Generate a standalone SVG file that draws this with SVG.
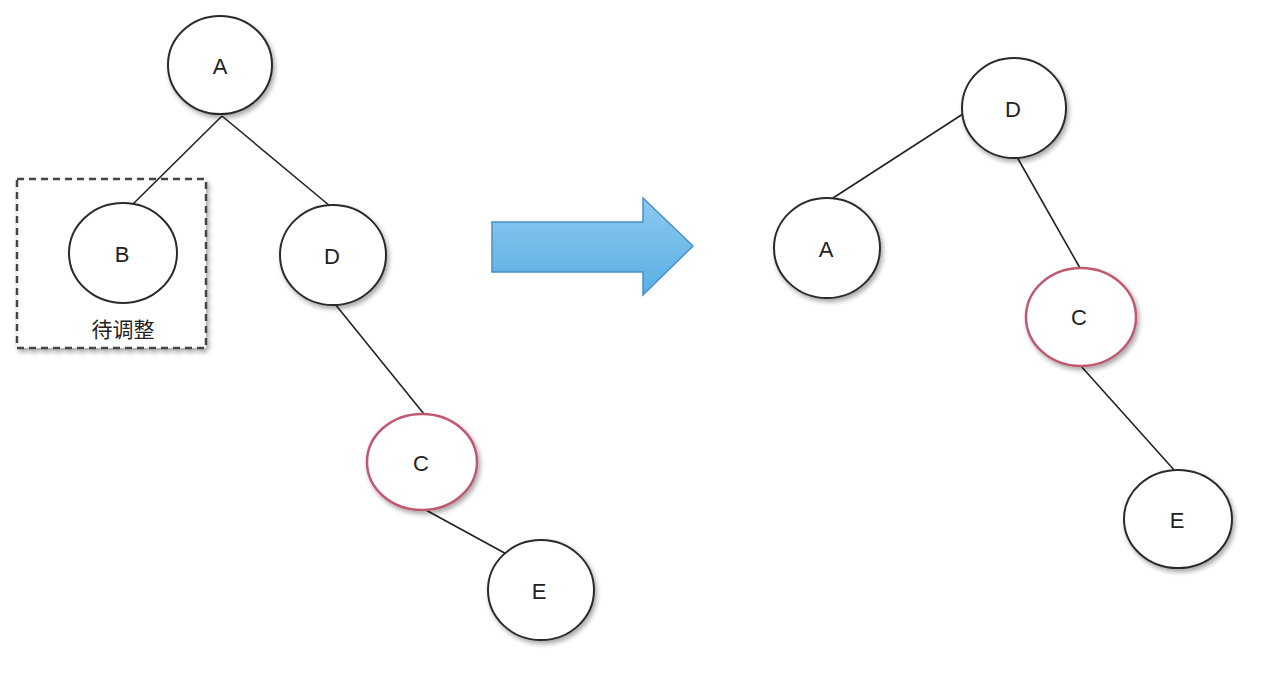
<svg xmlns="http://www.w3.org/2000/svg" width="1280" height="673" viewBox="0 0 1280 673">
<defs>
<filter id="sh" x="-20%" y="-20%" width="150%" height="150%">
<feGaussianBlur in="SourceAlpha" stdDeviation="2.5"/>
<feOffset dx="2" dy="3" result="b"/>
<feComponentTransfer><feFuncA type="linear" slope="0.35"/></feComponentTransfer>
<feMerge><feMergeNode/><feMergeNode in="SourceGraphic"/></feMerge>
</filter>
<linearGradient id="ag" x1="0" y1="0" x2="0" y2="1">
<stop offset="0" stop-color="#8ccaf0"/>
<stop offset="1" stop-color="#5aaee4"/>
</linearGradient>
</defs>
<style>
.n{fill:#fff;stroke:#2a2a2a;stroke-width:2}
.r{fill:#fff;stroke:#c0596f;stroke-width:2.5}
.t{font-family:"Liberation Sans",Arial,sans-serif;font-size:22px;fill:#222;text-anchor:middle;dominant-baseline:central}
.e{stroke:#222;stroke-width:1.6;fill:none}
</style>
<rect width="1280" height="673" fill="#fff"/>
<g id="pending">
<rect x="17" y="179" width="189" height="169" fill="#fff" stroke="#444" stroke-width="2.5" stroke-dasharray="7,5" filter="url(#sh)"/>
<text class="t" x="123" y="328" style="font-family:'Noto Sans CJK SC',sans-serif;font-size:21px">待调整</text>
</g>
<g id="connectors">
<line class="e" x1="222" y1="116" x2="132" y2="205"/>
<line class="e" x1="222" y1="116" x2="330" y2="206"/>
<line class="e" x1="335" y1="304" x2="424" y2="414"/>
<line class="e" x1="424" y1="509" x2="510" y2="556"/>
<line class="e" x1="966" y1="112" x2="833" y2="198"/>
<line class="e" x1="1017" y1="157" x2="1080" y2="268"/>
<line class="e" x1="1080" y1="365" x2="1175" y2="471"/>
</g>
<g id="nodeA"><ellipse class="n" cx="220" cy="65" rx="52" ry="49" filter="url(#sh)"/><text class="t" x="220" y="66">A</text></g>
<g id="nodeB"><ellipse class="n" cx="123" cy="253" rx="54" ry="50"/><text class="t" x="122" y="254">B</text></g>
<g id="nodeD"><ellipse class="n" cx="333" cy="255" rx="53" ry="50" filter="url(#sh)"/><text class="t" x="332" y="256">D</text></g>
<g id="nodeC"><ellipse class="r" cx="422" cy="462" rx="55" ry="48" filter="url(#sh)"/><text class="t" x="421" y="463">C</text></g>
<g id="nodeE"><ellipse class="n" cx="541" cy="590" rx="53" ry="50" filter="url(#sh)"/><text class="t" x="539" y="591">E</text></g>
<g id="arrow"><path d="M492,222 H643 V198 L693,246 L643,295 V272 H492 Z" fill="url(#ag)" stroke="#4a90c8" stroke-width="1.5"/></g>
<g id="nodeD2"><ellipse class="n" cx="1014" cy="108" rx="52" ry="50" filter="url(#sh)"/><text class="t" x="1013" y="109">D</text></g>
<g id="nodeA2"><ellipse class="n" cx="827" cy="248" rx="53" ry="50" filter="url(#sh)"/><text class="t" x="826" y="249">A</text></g>
<g id="nodeC2"><ellipse class="r" cx="1081" cy="317" rx="55" ry="49" filter="url(#sh)"/><text class="t" x="1079" y="317">C</text></g>
<g id="nodeE2"><ellipse class="n" cx="1178" cy="519" rx="54" ry="49" filter="url(#sh)"/><text class="t" x="1177" y="520">E</text></g>
</svg>
